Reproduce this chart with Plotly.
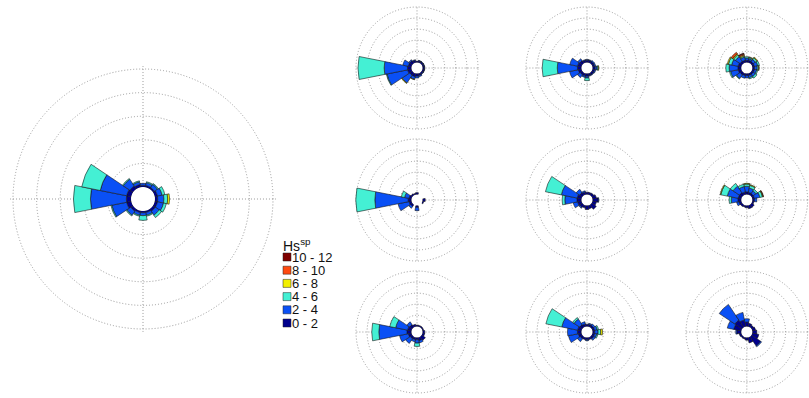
import plotly.graph_objects as go

# Canvas
FIG_W, FIG_H = 809, 398

# 16 compass sectors (degrees clockwise from north) and sector width
directions = ["N", "NNE", "NE", "ENE", "E", "ESE", "SE", "SSE",
              "S", "SSW", "SW", "WSW", "W", "WNW", "NW", "NNW"]
direction_deg = [0, 22.5, 45, 67.5, 90, 112.5, 135, 157.5,
                 180, 202.5, 225, 247.5, 270, 292.5, 315, 337.5]
sector_width = 22.5

# Significant wave height classes and their colours
hs_bins = ["0 - 2", "2 - 4", "4 - 6", "6 - 8", "8 - 10", "10 - 12"]
bin_colors = ["#00008C", "#0A50F5", "#44F0D4", "#F2F000", "#FF4A10", "#7E0000"]

# Frequency (%) per direction and Hs class, one table per rose
overall = {
    "0 - 2": [0.4, 0.4, 0.4, 0.6, 0.6, 0.6, 0.6, 0.4, 0.4, 0.4, 0.6, 1.0, 1.0, 1.0, 0.8, 0.6],
    "2 - 4": [0.4, 0.6, 0.8, 1.0, 1.3, 1.3, 1.0, 0.6, 0.6, 0.6, 1.0, 3.2, 7.6, 5.7, 1.7, 0.6],
    "4 - 6": [0.0, 0.2, 0.2, 0.6, 0.8, 0.6, 0.6, 0.2, 1.0, 0.2, 0.2, 0.2, 3.6, 4.0, 0.2, 0.2],
    "6 - 8": [0.0, 0.0, 0.0, 0.0, 0.4, 0.0, 0.0, 0.0, 0.0, 0.0, 0.0, 0.0, 0.0, 0.0, 0.0, 0.0],
}
panel_a = {
    "0 - 2": [0.6, 0.8, 0.8, 0.8, 0.8, 0.8, 0.8, 1.0, 1.2, 1.5, 1.5, 1.8, 1.8, 1.5, 1.5, 1.0],
    "2 - 4": [0.0, 0.2, 0.2, 0.2, 0.2, 0.2, 0.2, 0.5, 0.8, 1.2, 4.1, 9.5, 10.5, 2.5, 0.5, 0.3],
    "4 - 6": [0.0, 0.0, 0.0, 0.0, 0.0, 0.0, 0.0, 0.0, 0.0, 0.0, 0.0, 0.3, 11.8, 0.0, 0.0, 0.0],
    "6 - 8": [0.0, 0.0, 0.0, 0.0, 0.0, 0.0, 0.0, 0.0, 0.0, 0.2, 0.3, 0.0, 0.0, 0.0, 0.0, 0.0],
}
panel_b = {
    "0 - 2": [1.0, 1.0, 1.0, 1.0, 1.2, 1.0, 1.0, 1.0, 1.2, 1.2, 1.2, 1.5, 1.8, 1.8, 1.5, 1.0],
    "2 - 4": [0.3, 0.3, 0.5, 0.5, 0.8, 0.5, 0.3, 0.3, 0.8, 0.6, 1.5, 4.0, 9.1, 3.6, 1.0, 0.3],
    "4 - 6": [0.0, 0.0, 0.0, 0.0, 0.5, 0.0, 0.0, 0.0, 1.2, 0.0, 0.0, 0.0, 6.8, 0.0, 0.0, 0.0],
    "6 - 8": [0.0, 0.0, 0.0, 0.0, 0.3, 0.0, 0.0, 0.0, 0.0, 0.0, 0.0, 0.0, 0.0, 0.0, 0.0, 0.0],
}
panel_c = {
    "0 - 2": [1.0, 1.0, 1.0, 1.0, 1.0, 1.0, 1.0, 1.0, 1.0, 1.0, 1.2, 1.5, 1.5, 1.5, 1.2, 1.0],
    "2 - 4": [1.0, 0.8, 1.2, 1.5, 1.2, 1.0, 1.2, 1.0, 1.0, 1.2, 2.0, 3.5, 4.0, 3.0, 2.5, 1.5],
    "4 - 6": [0.6, 0.5, 0.8, 0.8, 0.6, 0.5, 0.8, 0.5, 0.0, 0.0, 0.3, 0.5, 1.5, 1.5, 1.0, 0.5],
    "6 - 8": [0.0, 0.3, 0.4, 0.0, 0.3, 0.0, 0.0, 0.0, 0.0, 0.0, 0.0, 0.0, 0.0, 0.5, 0.5, 0.5],
    "8 - 10": [0.0, 0.0, 0.0, 0.0, 0.0, 0.0, 0.0, 0.0, 0.0, 0.0, 0.0, 0.0, 0.0, 0.0, 0.8, 0.5],
    "10 - 12": [0.0, 0.0, 0.0, 0.0, 0.0, 0.0, 0.0, 0.0, 0.0, 0.0, 0.0, 0.0, 0.0, 0.0, 0.0, 0.3],
}
panel_d = {
    "0 - 2": [0.8, 0.0, 0.0, 0.0, 1.2, 0.6, 0.0, 0.0, 0.8, 0.0, 1.0, 1.2, 1.5, 1.2, 0.8, 0.6],
    "2 - 4": [0.0, 0.0, 0.0, 0.0, 0.0, 0.0, 0.0, 0.0, 1.5, 0.0, 1.0, 5.0, 15.0, 2.0, 0.0, 0.0],
    "4 - 6": [0.0, 0.0, 0.0, 0.0, 0.0, 0.0, 0.0, 0.0, 0.0, 0.0, 0.0, 0.0, 8.6, 1.5, 0.0, 0.0],
}
panel_e = {
    "0 - 2": [1.0, 1.0, 1.2, 1.8, 2.5, 1.8, 2.5, 1.5, 1.8, 1.2, 1.5, 1.8, 2.0, 2.0, 1.5, 1.2],
    "2 - 4": [0.0, 0.0, 0.0, 0.0, 0.3, 0.0, 0.0, 0.0, 0.0, 0.0, 0.5, 2.0, 5.5, 7.3, 1.8, 0.5],
    "4 - 6": [0.0, 0.0, 0.0, 0.0, 0.0, 0.0, 0.0, 0.0, 0.0, 0.0, 0.0, 0.0, 1.2, 7.3, 0.0, 0.0],
}
panel_f = {
    "0 - 2": [1.2, 1.0, 1.0, 1.0, 1.0, 0.8, 1.5, 1.5, 1.0, 0.8, 1.0, 1.2, 1.5, 1.5, 1.5, 1.2],
    "2 - 4": [2.5, 2.0, 1.5, 2.5, 1.0, 0.0, 0.0, 0.0, 0.0, 0.0, 0.0, 1.0, 3.0, 5.0, 3.5, 2.5],
    "4 - 6": [1.0, 1.2, 0.8, 1.2, 0.0, 0.0, 0.0, 0.0, 0.0, 0.0, 0.0, 0.0, 1.0, 3.0, 1.5, 1.0],
    "6 - 8": [0.3, 0.3, 0.0, 0.3, 0.0, 0.0, 0.0, 0.0, 0.0, 0.0, 0.0, 0.0, 0.0, 0.3, 0.0, 0.0],
    "8 - 10": [0.0, 0.0, 0.0, 0.2, 0.0, 0.0, 0.0, 0.0, 0.0, 0.0, 0.0, 0.0, 0.0, 0.0, 0.0, 0.0],
}
panel_g = {
    "0 - 2": [0.6, 0.6, 0.6, 0.6, 1.0, 1.0, 2.0, 1.5, 1.0, 1.0, 1.2, 1.5, 2.0, 1.8, 1.5, 1.0],
    "2 - 4": [0.0, 0.0, 0.0, 0.0, 0.0, 0.0, 0.0, 1.0, 1.5, 1.0, 2.5, 4.0, 12.7, 5.5, 1.5, 0.0],
    "4 - 6": [0.0, 0.0, 0.0, 0.0, 0.0, 0.0, 0.0, 0.0, 1.5, 0.0, 0.0, 0.0, 3.2, 2.7, 0.0, 0.0],
}
panel_h = {
    "0 - 2": [1.0, 1.0, 1.0, 1.0, 1.0, 1.0, 1.2, 1.0, 1.0, 1.0, 1.2, 1.5, 1.8, 1.8, 1.5, 1.2],
    "2 - 4": [0.0, 0.5, 0.8, 1.2, 1.5, 1.0, 0.8, 0.0, 0.4, 0.0, 1.5, 4.5, 4.5, 7.3, 3.0, 1.0],
    "4 - 6": [0.0, 0.0, 0.0, 0.6, 1.2, 0.5, 0.0, 0.0, 0.0, 0.0, 0.0, 0.0, 0.0, 7.3, 0.8, 0.0],
    "6 - 8": [0.0, 0.0, 0.0, 0.0, 0.8, 0.0, 0.0, 0.0, 0.0, 0.0, 0.0, 0.0, 0.0, 0.0, 0.0, 0.0],
}
panel_i = {
    "0 - 2": [2.0, 1.5, 1.2, 1.5, 2.0, 3.0, 5.0, 2.5, 1.2, 0.8, 0.8, 1.0, 2.0, 3.5, 4.0, 3.0],
    "2 - 4": [1.5, 0.0, 0.0, 0.0, 0.0, 0.0, 0.5, 0.0, 0.0, 0.0, 0.0, 0.0, 0.5, 3.0, 8.5, 3.5],
}

# Radial scale shared by every rose (%), rings every 5 %
ring_values = [5, 10, 15, 20, 25]
r_max = 25.6   # leave room past the last ring so its circle is not clipped away
hole = 0.09

# Placement of each rose: centre (px from left, px from top) and
# radius of its outermost ring (px)
roses = [
    (overall, 143, 199, 130),
    (panel_a, 417, 68, 61), (panel_b, 587, 68, 61), (panel_c, 747, 68, 61),
    (panel_d, 417, 200, 61), (panel_e, 587, 200, 61), (panel_f, 747, 200, 61),
    (panel_g, 417, 332, 61), (panel_h, 587, 332, 61), (panel_i, 747, 332, 61),
]

grid_style = dict(gridcolor="#9a9a9a", griddash="1px,2px", gridwidth=1)

fig = go.Figure()
layout_polars = {}
for k, (table, cx, cy, ring_r) in enumerate(roses):
    name = "polar" if k == 0 else f"polar{k + 1}"
    for label, color in zip(hs_bins, bin_colors):
        if label not in table:
            continue
        fig.add_trace(go.Barpolar(
            r=table[label], theta=direction_deg, width=sector_width,
            name=label, marker=dict(color=color, line=dict(color="#1a1a1a", width=0.6)),
            subplot=name, showlegend=False, hoverinfo="skip",
        ))
    # full polar radius so that the outer ring sits at ring_r
    rad = ring_r / (hole + (1 - hole) * ring_values[-1] / r_max)
    layout_polars[name] = dict(
        domain=dict(x=[max(0, (cx - rad) / FIG_W), min(1, (cx + rad) / FIG_W)],
                    y=[max(0, (FIG_H - cy - rad) / FIG_H), min(1, (FIG_H - cy + rad) / FIG_H)]),
        hole=hole,
        bgcolor="white",
        barmode="stack",
        radialaxis=dict(range=[0, r_max], tickvals=ring_values, showticklabels=False,
                        ticks="", showline=False, **grid_style),
        angularaxis=dict(direction="clockwise", rotation=90, tickvals=[0, 90, 180, 270],
                         showticklabels=False, ticks="", showline=False, **grid_style),
    )

fig.update_layout(**layout_polars)

# Hs class key
font_face = "Liberation Sans, Arial, sans-serif"
annotations = [dict(x=281 / FIG_W, y=1 - 245 / FIG_H, xref="paper", yref="paper",
                    xanchor="left", yanchor="middle", showarrow=False,
                    text="Hs<sup>sp</sup>", font=dict(family=font_face, size=14, color="#111"))]
shapes = []
for j, (label, color) in enumerate(zip(reversed(hs_bins), reversed(bin_colors))):
    yc = 257 + 13.2 * j
    shapes.append(dict(type="rect", xref="paper", yref="paper",
                       x0=283 / FIG_W, x1=291 / FIG_W,
                       y0=1 - (yc + 4) / FIG_H, y1=1 - (yc - 4) / FIG_H,
                       fillcolor=color, line=dict(color="#222", width=0.5)))
    annotations.append(dict(x=291 / FIG_W, y=1 - yc / FIG_H, xref="paper", yref="paper",
                            xanchor="left", yanchor="middle", showarrow=False, text=label,
                            borderpad=0, font=dict(family=font_face, size=13, color="#111")))

fig.update_layout(
    width=FIG_W, height=FIG_H, margin=dict(l=0, r=0, t=0, b=0),
    paper_bgcolor="white", plot_bgcolor="white", showlegend=False,
    annotations=annotations, shapes=shapes,
)

fig.write_html("out.html")
